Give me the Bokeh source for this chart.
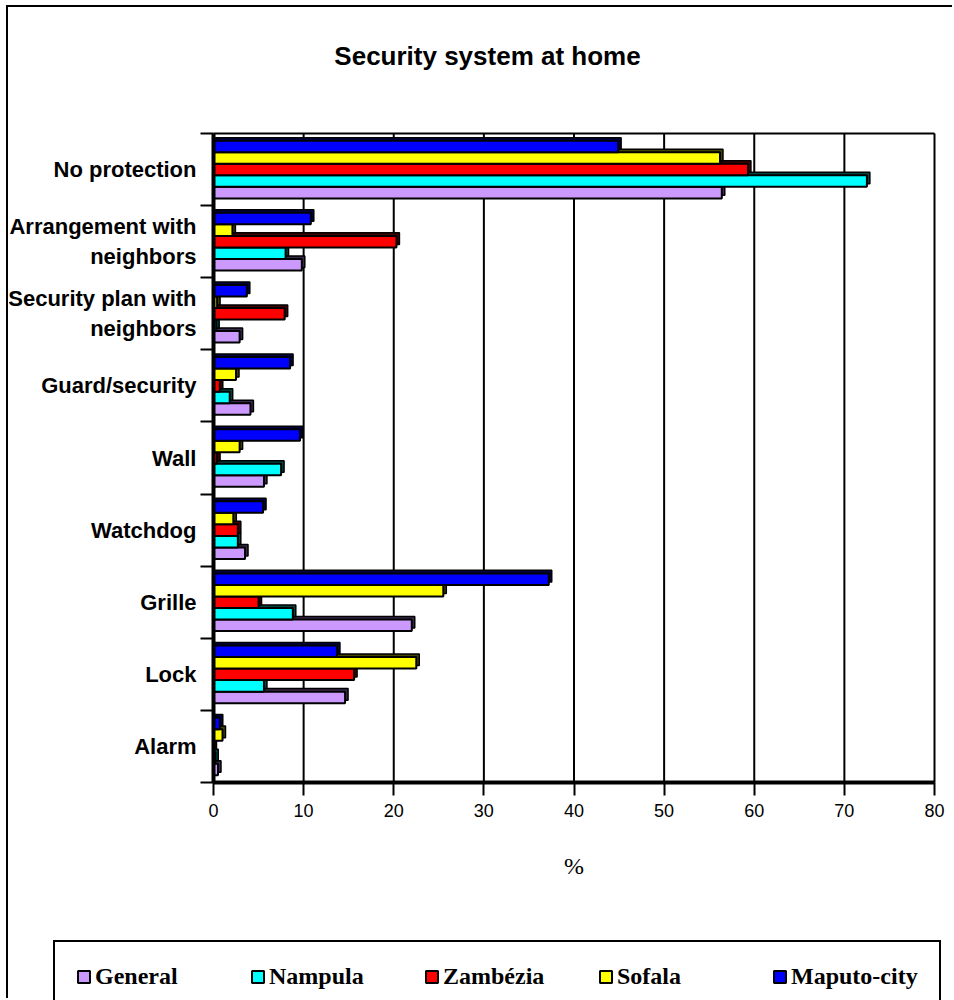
from bokeh.plotting import figure
from bokeh.models import Range1d, FixedTicker, Legend, LegendItem, ColumnDataSource, Label
from bokeh.transform import dodge
from bokeh.embed import file_html
from bokeh.resources import INLINE

# ---- data ----
title = "Security system at home"
categories = ["No protection", "Arrangement with neighbors", "Security plan with neighbors",
              "Guard/security", "Wall", "Watchdog", "Grille", "Lock", "Alarm"]
category_labels = ["No protection", "Arrangement with\nneighbors", "Security plan with\nneighbors",
                   "Guard/security", "Wall", "Watchdog", "Grille", "Lock", "Alarm"]
series = ["General", "Nampula", "Zambézia", "Sofala", "Maputo-city"]
general = [56.4, 9.8, 2.9, 4.1, 5.6, 3.5, 22.0, 14.6, 0.5]
nampula = [72.5, 8.0, 0.3, 1.8, 7.5, 2.7, 8.8, 5.6, 0.2]
zambezia = [59.3, 20.3, 7.9, 0.7, 0.4, 2.7, 5.0, 15.6, 0.0]
sofala = [56.2, 2.1, 0.4, 2.5, 2.9, 2.2, 25.5, 22.5, 1.0]
maputo = [44.9, 10.8, 3.7, 8.5, 9.6, 5.5, 37.2, 13.7, 0.7]
x_ticks = [0, 10, 20, 30, 40, 50, 60, 70, 80]

values = [general, nampula, zambezia, sofala, maputo]
colors = ["#CC99FF", "#00FFFF", "#FF0000", "#FFFF00", "#0000FF"]
shades = ["#3a2a4a", "#004444", "#440000", "#444400", "#000044"]

n = len(categories)
yc = [n - 0.5 - i for i in range(n)]
bounds = [float(i) for i in range(n + 1)]
x_max = x_ticks[-1]

# ---- layout (canvas pixels) ----
W, H = 946, 993
AREA_L, AREA_R, AREA_T, AREA_B = 205, 926, 126, 775
TITLE_CX, TITLE_CY = 479, 48
px_x = (AREA_R - AREA_L) / x_max
px_y = (AREA_B - AREA_T) / n
x_range = Range1d(-AREA_L / px_x, (W - AREA_L) / px_x)
y_range = Range1d(-(H - AREA_B) / px_y, n + AREA_T / px_y)

p = figure(width=W, height=H, x_range=x_range, y_range=y_range, title=None,
           output_backend="svg", toolbar_location=None,
           min_border_left=0, min_border_right=0, min_border_top=0, min_border_bottom=0,
           styles={"margin-left": "6px", "margin-top": "5px",
                   "border-left": "2px solid black", "border-top": "2px solid black"})

# plot area border (top) and vertical grid lines
p.segment(x0=[0], y0=[n], x1=[x_max], y1=[n], line_color="black", line_width=2)
p.segment(x0=x_ticks[1:], y0=[0] * (len(x_ticks) - 1), x1=x_ticks[1:], y1=[n] * (len(x_ticks) - 1),
          line_color="black", line_width=2)

bar_h = 0.16
dx = 0.33
dy = 0.042
front = []
for k, (name, vals, col, sh) in enumerate(zip(series, values, colors, shades)):
    src = ColumnDataSource(dict(yc=yc, v=vals))
    off = (k - 2) * bar_h
    p.hbar(y=dodge("yc", off + dy), left=0, right=dodge("v", dx), height=bar_h, source=src,
           fill_color=sh, line_color="black", line_width=1.5)
    r = p.hbar(y=dodge("yc", off), left=0, right="v", height=bar_h, source=src,
               fill_color=col, line_color="black", line_width=2)
    front.append(r)

# x axis
xa = p.xaxis[0]
xa.fixed_location = 0
xa.bounds = (0, x_max)
xa.ticker = FixedTicker(ticks=x_ticks)
xa.axis_line_width = 4
xa.axis_line_color = "black"
xa.major_tick_out = 13
xa.major_tick_in = 0
xa.major_tick_line_width = 2
xa.minor_tick_out = 0
xa.minor_tick_in = 0
xa.major_label_text_font = "Liberation Sans"
xa.major_label_text_font_size = "18px"
xa.major_label_text_color = "black"
xa.major_label_standoff = 8
xa.axis_label = "%"
xa.axis_label_text_font = "Liberation Serif"
xa.axis_label_text_font_style = "normal"
xa.axis_label_text_font_size = "24px"
xa.axis_label_text_color = "black"
xa.axis_label_standoff = 33

# y axis
ya = p.yaxis[0]
ya.fixed_location = 0
ya.bounds = (0, n)
ya.ticker = FixedTicker(ticks=yc, minor_ticks=bounds)
ya.major_label_overrides = {y: lab for y, lab in zip(yc, category_labels)}
ya.axis_line_width = 4
ya.axis_line_color = "black"
ya.major_tick_out = 0
ya.major_tick_in = 0
ya.minor_tick_out = 13
ya.minor_tick_in = 0
ya.minor_tick_line_width = 2
ya.minor_tick_line_color = "black"
ya.major_label_text_font = "Liberation Sans"
ya.major_label_text_font_style = "bold"
ya.major_label_text_font_size = "22px"
ya.major_label_text_color = "black"
ya.major_label_standoff = 4

p.xgrid.visible = False
p.ygrid.visible = False
p.outline_line_color = None

# title
p.add_layout(Label(x=(TITLE_CX - AREA_L) / px_x, y=n + (AREA_T - TITLE_CY) / px_y, text=title,
                   text_align="center", text_baseline="middle",
                   text_font="Liberation Sans", text_font_style="bold",
                   text_font_size="26px", text_color="black"))

legend = Legend(items=[LegendItem(label=s, renderers=[r]) for s, r in zip(series, front)],
                orientation="horizontal", location=(45, -13),
                border_line_color="black", border_line_width=2, border_line_alpha=1,
                background_fill_alpha=0,
                glyph_width=15, glyph_height=15, label_standoff=4, label_width=126, spacing=29,
                padding=21, margin=0, label_height=27,
                label_text_font="Liberation Serif", label_text_font_style="bold",
                label_text_font_size="24px", label_text_color="black")
p.add_layout(legend)

open("out.html", "w").write(file_html(p, INLINE))
